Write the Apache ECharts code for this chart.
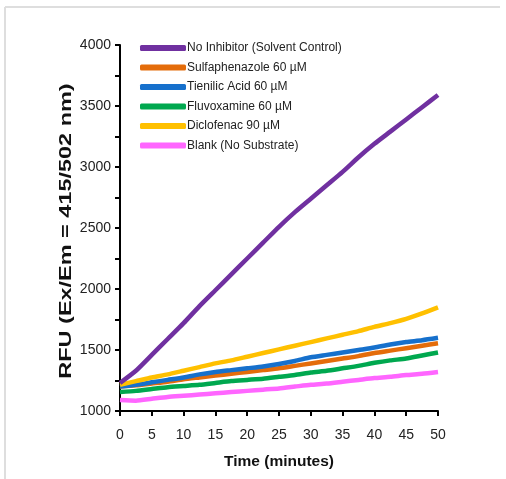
<!DOCTYPE html>
<html>
<head>
<meta charset="utf-8">
<script src="https://cdn.jsdelivr.net/npm/echarts@6/dist/echarts.min.js"></script>
<style>html,body{margin:0;padding:0;background:#fff}#c{width:506px;height:479px}</style>
</head>
<body>
<div id="c"></div>
<script>
const times = [0,2.5,5,7.5,10,12.5,15,17.5,20,22.5,25,27.5,30,32.5,35,37.5,40,42.5,45,47.5,50];
const seriesNames = ['No Inhibitor (Solvent Control)','Sulfaphenazole 60 µM','Tienilic Acid 60 µM','Fluvoxamine 60 µM','Diclofenac 90 µM','Blank (No Substrate)'];
const noInhibitor = [1230,1330,1460,1590,1720,1860,1990,2120,2250,2380,2510,2630,2740,2850,2960,3080,3190,3290,3390,3490,3590];
const sulfaphenazole = [1200,1210,1225,1240,1260,1275,1290,1305,1320,1335,1350,1370,1390,1410,1430,1450,1475,1495,1515,1535,1555];
const tienilic = [1200,1215,1235,1255,1275,1300,1320,1335,1350,1365,1385,1410,1440,1460,1480,1500,1520,1545,1565,1580,1600];
const fluvoxamine = [1155,1165,1180,1195,1205,1215,1230,1245,1255,1265,1280,1295,1315,1330,1350,1370,1395,1415,1430,1455,1480];
const diclofenac = [1215,1245,1275,1300,1330,1360,1390,1415,1445,1475,1505,1535,1565,1595,1625,1655,1690,1720,1755,1800,1850];
const blank = [1090,1085,1100,1115,1125,1135,1145,1155,1165,1175,1185,1200,1215,1225,1240,1255,1270,1280,1295,1305,1320];
const yTicks = [1000,1500,2000,2500,3000,3500,4000];
const xTicks = [0,5,10,15,20,25,30,35,40,45,50];
const yTitle = 'RFU (Ex/Em = 415/502 nm)';
const xTitle = 'Time (minutes)';

const colors = ['#7030A0','#E46C0A','#1670CC','#00A84F','#FFC000','#FF66FF'];
const values = [noInhibitor, sulfaphenazole, tienilic, fluvoxamine, diclofenac, blank];
const sans = '"Liberation Sans",Arial,sans-serif';

function pairs(v){ return times.map((t,i)=>[t,v[i]]); }
const drawOrder = [5,3,1,2,4,0];
const series = drawOrder.map(i => ({
  name: seriesNames[i], type: 'line', data: pairs(values[i]), showSymbol: false, symbol: 'none',
  lineStyle: {width: 4.5, color: colors[i]}, itemStyle: {color: colors[i]}, smooth: 0.2, animation: false
}));

const chart = echarts.init(document.getElementById('c'));
chart.setOption({
  animation: false,
  grid: {left: 120, right: 68, top: 45, bottom: 68},
  legend: {
    data: seriesNames, orient: 'vertical', left: 135, top: 36, itemWidth: 46, itemHeight: 6,
    itemGap: 5.5, icon: 'roundRect',
    textStyle: {fontFamily: sans, fontSize: 12, color: '#222', lineHeight: 14, padding: [0,0,0,-4]}
  },
  xAxis: {
    type: 'value', min: 0, max: 50, interval: 5,
    name: xTitle, nameLocation: 'middle', nameGap: 43,
    nameTextStyle: {fontFamily: sans, fontSize: 15.5, fontWeight: 'bold', color: '#111'},
    axisLine: {show: true, lineStyle: {color: '#000', width: 2}},
    axisTick: {show: true, length: 5, lineStyle: {color: '#000', width: 2}},
    axisLabel: {fontFamily: sans, fontSize: 14, color: '#222', margin: 17,
      formatter: v => xTicks.includes(v) ? String(v) : ''},
    splitLine: {show: false}
  },
  yAxis: {
    type: 'value', min: 1000, max: 4000, interval: 500,
    axisLine: {show: true, lineStyle: {color: '#000', width: 2}},
    axisTick: {show: true, length: 5, lineStyle: {color: '#000', width: 2}},
    minorTick: {show: true, splitNumber: 2, length: 5, lineStyle: {color: '#000', width: 2}},
    axisLabel: {fontFamily: sans, fontSize: 14, color: '#222', margin: 9,
      formatter: v => yTicks.includes(v) ? String(v) : ''},
    splitLine: {show: false}
  },
  graphic: [
    {type: 'line', shape: {x1: 5, y1: 7, x2: 500, y2: 7}, style: {stroke: '#dedede', lineWidth: 2}, silent: true},
    {type: 'line', shape: {x1: 5, y1: 7, x2: 5, y2: 479}, style: {stroke: '#dedede', lineWidth: 2}, silent: true},
    {type: 'text', x: 66, y: 231, rotation: Math.PI / 2, scaleX: 1.02, scaleY: 0.72, silent: true,
      style: {text: yTitle, font: 'bold 23px "Liberation Sans", Arial, sans-serif', fill: '#111',
        textAlign: 'center', textVerticalAlign: 'middle'}}
  ],
  series: series
});
</script>
</body>
</html>
